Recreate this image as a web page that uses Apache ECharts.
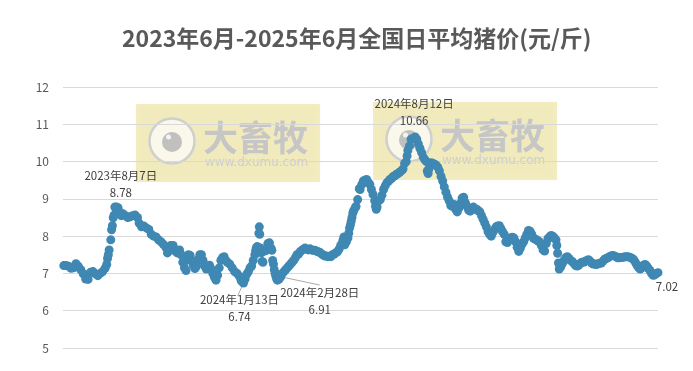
<!DOCTYPE html>
<html><head><meta charset="utf-8">
<script src="https://cdn.jsdelivr.net/npm/echarts@6/dist/echarts.min.js"></script>
<style>html,body{margin:0;padding:0;background:#fff}#c{width:693px;height:371px}</style>
</head><body><div id="c"></div>
<script>
const titleText = '2023年6月-2025年6月全国日平均猪价(元/斤)';
const yTicks = [5, 6, 7, 8, 9, 10, 11, 12];
// [days since 2023-06-05, price]
const samples2023 = [[0,7.21],[3,7.21],[6,7.19],[9,7.14],[12,7.15],[15,7.26],[18,7.19],[21,7.10],[24,6.99],[27,6.85],[30,6.84],[33,7.03],[36,7.05],[39,6.99],[42,6.94],[45,7.0],[48,7.05],[51,7.14],[53,7.24],[54,7.40],[55,7.5],[56,7.63],[58,7.9],[59,8.17],[60,8.28],[61,8.49],[62,8.56],[65,8.78],[67,8.76],[69,8.65],[71,8.55],[73,8.6],[76,8.55],[79,8.5],[82,8.52],[85,8.55],[88,8.57],[91,8.5],[93,8.35],[96,8.25],[99,8.27],[102,8.22],[105,8.18],[108,8.05],[111,8.0],[114,7.98],[117,7.9],[120,7.85],[123,7.78],[126,7.7],[128,7.55],[130,7.62],[132,7.75],[135,7.75],[138,7.6],[140,7.55],[143,7.63],[145,7.5],[147,7.3],[149,7.15],[151,7.08],[152,7.35],[154,7.5],[156,7.48],[158,7.35],[160,7.22],[162,7.13],[164,7.2],[166,7.38],[168,7.5],[170,7.5],[172,7.35],[174,7.2],[176,7.12],[178,7.15],[180,7.22],[182,7.12],[184,7.0],[186,6.9],[188,6.82],[190,6.95],[192,7.15],[194,7.35],[196,7.42],[198,7.45],[200,7.35],[202,7.3],[205,7.25],[208,7.15],[211,7.05],[214,7.0],[217,6.92],[219,6.82],[220,6.78]];
const samples2024 = [[224,6.85],[226,6.98],[228,7.05],[230,7.15],[232,7.2],[234,7.35],[236,7.5],[237,7.62],[238,7.7],[239,7.72],[240,7.68],[241,8.08],[241.5,8.25],[242,8.05],[243,7.68],[244,7.55],[245,7.32],[246,7.3],[248,7.6],[250,7.62],[252,7.8],[254,7.82],[256,7.68],[257,7.62],[258,7.35],[259,7.25],[260,7.1],[261,7.0],[262,6.92],[263,6.85],[264,6.82],[266,6.85],[270,7.0],[272,7.05],[274,7.1],[276,7.15],[278,7.2],[280,7.25],[282,7.3],[284,7.35],[286,7.42],[288,7.5],[290,7.52],[292,7.58],[294,7.62],[296,7.65],[298,7.68],[300,7.65],[302,7.63],[304,7.66],[306,7.63],[308,7.62],[310,7.62],[312,7.6],[314,7.58],[316,7.57],[318,7.53],[320,7.5],[322,7.47],[324,7.47],[326,7.45],[328,7.46],[330,7.45],[332,7.5],[334,7.52],[336,7.55],[338,7.58],[340,7.65],[342,7.75],[344,7.82],[345,7.9],[346,7.98],[347,7.77],[349,7.85],[351,7.95],[352,8.08],[353,8.22],[354,8.3],[355,8.4],[356,8.5],[357,8.62],[358,8.68],[360,8.76],[361,8.8],[363,8.98],[365,9.27],[366,9.25],[368,9.38],[370,9.48],[372,9.5],[374,9.52],[376,9.45],[378,9.39],[380,9.25],[382,9.12],[384,8.95],[385,8.8],[386,8.72],[387,8.78],[389,8.95],[391,8.98],[393,9.1],[395,9.25],[397,9.35],[399,9.43],[401,9.47],[403,9.52],[405,9.55],[407,9.6],[409,9.62],[411,9.66],[413,9.68],[415,9.72],[417,9.75],[419,9.8],[421,9.95],[423,10.0],[424,10.15],[425,10.3],[427,10.42],[429,10.6],[431,10.62],[436,10.6],[438,10.47],[440,10.35],[442,10.24],[444,10.12],[446,10.05],[448,10.0],[449,9.75],[450,9.68],[451,9.8],[452,9.92],[454,9.97],[456,9.95],[458,9.93],[460,9.9],[462,9.85],[464,9.75],[466,9.6],[468,9.48],[470,9.32],[472,9.18],[474,9.05],[476,8.95],[478,8.82],[480,8.8],[482,8.85],[484,8.72],[486,8.65],[488,8.75],[490,8.88],[492,9.02],[494,9.04],[496,8.9],[498,8.8],[500,8.7],[502,8.67],[504,8.75],[506,8.78],[508,8.72],[510,8.72],[512,8.68],[514,8.65],[516,8.55],[518,8.45],[520,8.35],[522,8.25],[524,8.12],[526,8.05],[528,8.0],[530,8.1],[532,8.17],[534,8.25],[536,8.27],[538,8.28],[540,8.2],[542,8.12],[544,8.05],[546,7.85],[548,7.83],[550,7.9],[552,7.95],[554,7.97],[556,7.95],[558,7.85],[560,7.7],[562,7.59],[564,7.68],[566,7.78]];
const samples2025 = [[568,7.85],[570,7.95],[572,8.05],[574,8.15],[576,8.13],[578,8.05],[580,7.95],[582,7.92],[584,7.9],[586,7.87],[588,7.84],[590,7.75],[592,7.63],[594,7.6],[596,7.8],[598,7.93],[600,7.98],[602,8.02],[604,8.0],[606,7.95],[608,7.9],[609,7.75],[610,7.54],[611,7.28],[612,7.12],[614,7.18],[616,7.27],[618,7.35],[620,7.42],[622,7.45],[624,7.4],[626,7.35],[628,7.32],[630,7.27],[632,7.22],[634,7.2],[636,7.22],[638,7.27],[640,7.3],[642,7.3],[644,7.32],[646,7.35],[648,7.37],[650,7.33],[652,7.28],[654,7.25],[656,7.25],[658,7.24],[660,7.26],[662,7.27],[664,7.28],[666,7.33],[668,7.38],[670,7.4],[672,7.42],[674,7.45],[676,7.47],[678,7.48],[680,7.47],[682,7.45],[684,7.42],[686,7.42],[688,7.43],[690,7.43],[692,7.44],[694,7.45],[696,7.45],[698,7.44],[700,7.43],[702,7.4],[704,7.37],[706,7.3],[708,7.22],[710,7.16],[712,7.12],[714,7.15],[716,7.22],[718,7.24],[720,7.2],[722,7.14],[724,7.08],[726,7.0],[728,6.95],[730,6.96],[732,7.0]];
const noteDays = [63, 222, 268, 434, 734];
const notePrices = [8.78, 6.74, 6.91, 10.66, 7.02];
const noteTexts = ['2023年8月7日\n8.78', '2024年1月13日\n6.74', '2024年2月28日\n6.91', '2024年8月12日\n10.66', '7.02'];
const noteShifts = [[6, 3.5], [-4, 51.5], [39, 50.5], [-1, 1.5], [9, 31.5]];
const leaderEnds = [null, [214.8, 6.40], [316, 6.69], null, [745, 6.83]];

const BLUE = '#3f88b3';
function watermark(x, y) {
  const gray = '#c6c6c6';
  return {
    type: 'group', x: x, y: y, z: 20, silent: true,
    children: [
      { type: 'rect', shape: { x: 0, y: 0, width: 184, height: 78 }, style: { fill: 'rgba(220,200,50,0.30)', shadowBlur: 5, shadowColor: 'rgba(0,0,0,0.06)' } },
      { type: 'circle', shape: { cx: 36, cy: 37, r: 22.5 }, style: { fill: 'rgba(255,255,255,0.68)', stroke: '#cfcfcf', lineWidth: 2.5 } },
      { type: 'circle', shape: { cx: 36, cy: 38, r: 10 }, style: { fill: 'rgba(185,185,185,0.9)' } },
      { type: 'circle', shape: { cx: 32.5, cy: 33, r: 2.5 }, style: { fill: 'rgba(245,245,245,0.95)' } },
      { type: 'text', x: 67, y: 16, style: { text: '大畜牧', font: 'bold 35px "Noto Sans CJK SC"', fill: gray, textVerticalAlign: 'top' } },
      { type: 'text', x: 69, y: 53, style: { text: 'www.dxumu.com', font: '12px "DejaVu Sans"', fill: '#cdcdcd', textVerticalAlign: 'top' } }
    ]
  };
}

const leaderSeries = leaderEnds.map((end, i) => end && ({
  type: 'line', symbol: 'none', silent: true, clip: false, z: 1,
  lineStyle: { color: '#aaaaaa', width: 1 },
  data: [[noteDays[i], notePrices[i]], end]
})).filter(Boolean);

const chart = echarts.init(document.getElementById('c'), null, { renderer: 'canvas' });
chart.setOption({
  animation: false,
  backgroundColor: '#fff',
  title: {
    text: titleText, left: 117, top: 22,
    textStyle: { fontFamily: '"Noto Sans CJK SC"', fontSize: 23, fontWeight: 'bold', color: '#595959' }
  },
  grid: { left: 63, right: 35, top: 87, bottom: 23 },
  xAxis: { type: 'value', min: -1, max: 734, show: false },
  yAxis: {
    type: 'value', min: yTicks[0], max: yTicks[yTicks.length - 1], interval: 1,
    axisLine: { show: false }, axisTick: { show: false },
    axisLabel: { color: '#595959', fontSize: 12, margin: 14, fontFamily: '"Noto Sans CJK SC"' },
    splitLine: { lineStyle: { color: '#d9d9d9', width: 1 } }
  },
  series: leaderSeries.concat([
    {
      type: 'scatter', symbol: 'circle', symbolSize: 9, silent: true,
      itemStyle: { color: BLUE, opacity: 1 },
      data: samples2023.concat(samples2024, samples2025)
    },
    {
      type: 'scatter', symbol: 'circle', symbolSize: 9, silent: true,
      itemStyle: { color: BLUE, opacity: 1 },
      data: noteDays.map((d, i) => ({
        value: [d, notePrices[i]],
        label: {
          show: true, position: 'top', formatter: noteTexts[i],
          color: '#404040', fontSize: 11.5, lineHeight: 17, fontFamily: '"Noto Sans CJK SC"'
        }
      })),
      labelLayout: p => ({ dx: noteShifts[p.dataIndex][0], dy: noteShifts[p.dataIndex][1] })
    }
  ]),
  graphic: [watermark(136, 104), watermark(373, 102)]
});
</script></body></html>
